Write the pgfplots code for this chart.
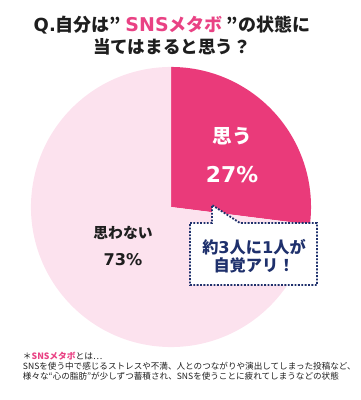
\documentclass[border=0pt]{standalone}
\usepackage{pgfplots}
\pgfplotsset{compat=1.18}
\usepackage{pgfplotstable}
\usepackage{fontspec}
\setmainfont{Noto Sans CJK JP}
\newfontfamily\lat{DejaVu Sans}
\definecolor{pinkD}{RGB}{234,58,122}
\definecolor{pinkL}{RGB}{252,226,238}
\definecolor{tpink}{RGB}{233,66,132}
\definecolor{navy}{RGB}{30,48,108}
\definecolor{txt}{RGB}{30,30,30}
\pgfplotstableread{
label value
yes 27
no 73
}\piedata
\begin{document}
\begin{tikzpicture}
\begin{axis}[x=0.025cm, y=0.025cm, xmin=0, xmax=360, ymin=0, ymax=400,
  hide axis, clip=false, anchor=origin, at={(0,0)}]
\pgfplotstablegetelem{0}{value}\of\piedata
\pgfmathsetmacro{\va}{\pgfplotsretval}
\pgfmathsetmacro{\ea}{90-\va*3.6}
\path (axis cs:0,0) rectangle (axis cs:360,400);
\fill[pinkD] (axis cs:171,193) -- ++(90:3.5cm) arc[start angle=90, end angle=\ea, radius=3.5cm] -- cycle;
\fill[pinkL] (axis cs:171,193) -- ++(\ea:3.5cm) arc[start angle=\ea, end angle=-270, radius=3.5cm] -- cycle;
% title
\node[font=\fontsize{12.8}{14}\selectfont\bfseries, text=txt] at (axis cs:172,375) {{\lat\bfseries Q.}自分は”\hspace{3pt}\textcolor{tpink}{{\fontsize{13.5}{14}\selectfont\lat\bfseries SNS}メタボ}\hspace{3pt}”の状態に};
\node[font=\fontsize{12.5}{14}\selectfont\bfseries, text=txt] at (axis cs:172,353) {当てはまると思う？};
% slice labels
\node[font=\fontsize{14}{16}\selectfont\bfseries, text=white] at (axis cs:232,264) {思う};
\node[font=\fontsize{15.5}{18}\selectfont\bfseries\lat, text=white] at (axis cs:232,225) {\pgfplotstablegetelem{0}{value}\of\piedata\pgfplotsretval\%};
\node[font=\fontsize{10.5}{12}\selectfont\bfseries, text=txt] at (axis cs:123,167) {思わない};
\node[font=\fontsize{11.5}{13}\selectfont\bfseries\lat, text=txt] at (axis cs:123,140) {\pgfplotstablegetelem{1}{value}\of\piedata\pgfplotsretval\%};
% callout
\draw[navy, line width=1.3pt, dash pattern=on 1.3pt off 1.1pt, fill=white]
  (axis cs:190,177) -- (axis cs:212,177) -- (axis cs:212,195) -- (axis cs:240,177)
  -- (axis cs:317,177) -- (axis cs:317,115) -- (axis cs:190,115) -- cycle;
\node[font=\fontsize{11.5}{13}\selectfont\bfseries, text=navy] at (axis cs:254,153) {約{\lat\bfseries 3}人に{\lat\bfseries 1}人が};
\node[font=\fontsize{11.5}{13}\selectfont\bfseries, text=navy] at (axis cs:254,135) {自覚アリ！};
% footnote
\node[font=\fontsize{6.2}{7}\selectfont, text=txt, anchor=west] at (axis cs:18,44) {＊\textcolor{tpink}{\bfseries SNSメタボ}とは…};
\node[font=\fontsize{6.1}{7}\selectfont, text=txt, anchor=west] at (axis cs:18,34) {SNSを使う中で感じるストレスや不満、人とのつながりや演出してしまった投稿など、};
\node[font=\fontsize{6.1}{7}\selectfont, text=txt, anchor=west] at (axis cs:18,24) {様々な“心の脂肪”が少しずつ蓄積され、SNSを使うことに疲れてしまうなどの状態};
\end{axis}
\end{tikzpicture}
\end{document}
